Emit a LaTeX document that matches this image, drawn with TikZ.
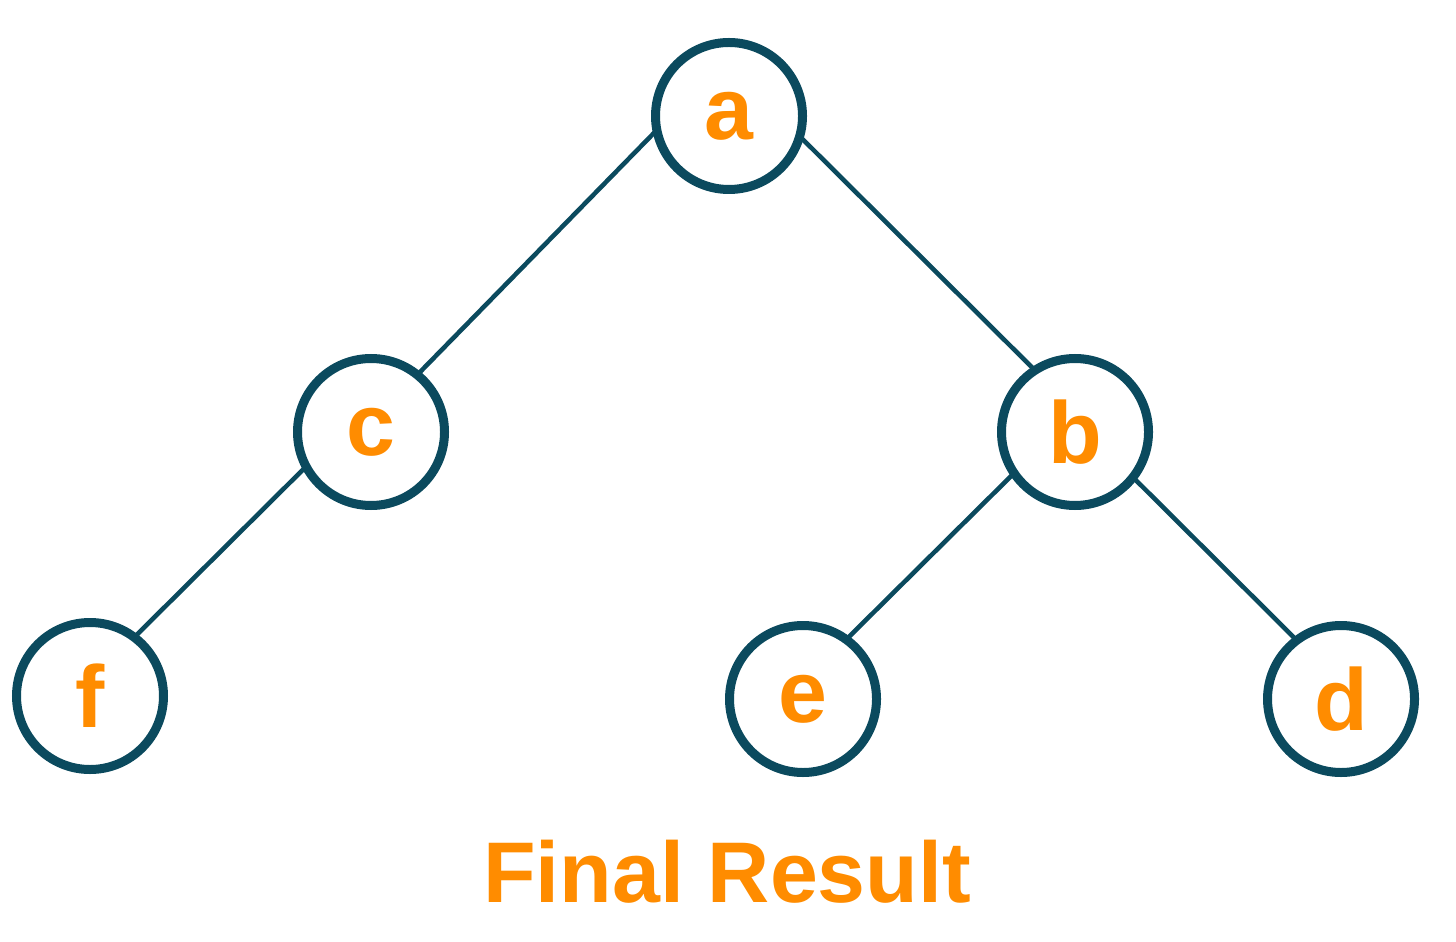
\documentclass[tikz,border=0pt]{standalone}
\usepackage{fontspec}
\setmainfont{Liberation Sans}
\usetikzlibrary{backgrounds}
\definecolor{ring}{HTML}{0B4A5E}
\definecolor{lbl}{HTML}{FF8C00}
\begin{document}
\begin{tikzpicture}[
  treenode/.style={circle, draw=ring, line width=2.56pt, fill=white, minimum size=1.47cm, inner sep=0pt, outer sep=0pt, text=lbl, font=\fontsize{25}{30}\selectfont\bfseries},
  edge/.style={draw=ring, line width=1.3pt}
]
\useasboundingbox (0,0) rectangle (14.56,-9.42);
\node[treenode] (a) at (7.29,-1.16) {a};
\node[treenode] (c) at (3.71,-4.32) {c};
\node[treenode] (b) at (10.75,-4.32) {b};
\node[treenode] (f) at (0.90,-6.96) {f};
\node[treenode] (e) at (8.03,-6.99) {e};
\node[treenode] (d) at (13.41,-6.99) {d};
\begin{scope}[on background layer]
\draw[edge] (a.191) -- (c.51);
\draw[edge] (a.344) -- (b.123);
\draw[edge] (c.208) -- (f.53);
\draw[edge] (b.214) -- (e.54);
\draw[edge] (b.322) -- (d.127);
\end{scope}
\node[text=lbl, font=\fontsize{24.5}{29}\selectfont\bfseries] (title) at (7.27,-8.72) {Final Result};
\end{tikzpicture}
\end{document}
